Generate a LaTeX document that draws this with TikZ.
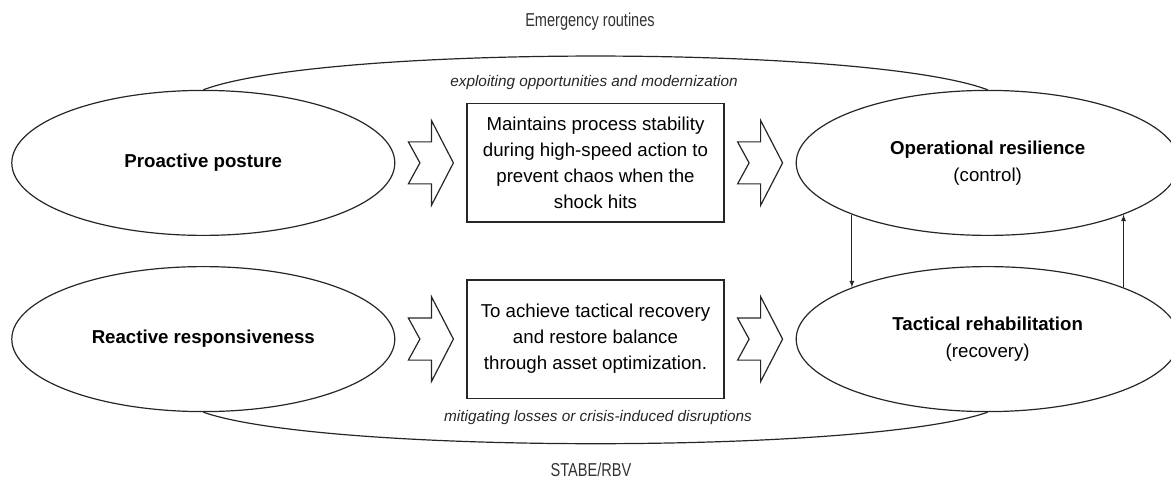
\documentclass[tikz,border=0pt]{standalone}
\usepackage{fontspec}
\setmainfont{Liberation Sans}
\newfontfamily\narrowsans[FakeStretch=0.78]{Liberation Sans}
\usetikzlibrary{%
  arrows,%
  shapes.geometric,% wg. ellipse
  matrix%
}

\begin{document}
\begin{tikzpicture}[x=0.75pt,y=0.75pt,>=latex,
	outcome/.style={
	ellipse,
	minimum width=287.25pt,
	minimum height=108.75pt,
	line width=0.9pt,
	draw=black!85,
	align=center,
	font=\fontsize{14}{20}\selectfont
	},aimbox/.style={
	rectangle,minimum width=192.75pt,minimum height=88.5pt,
	line width=0.9pt,draw=black!85,
	align=center,
	font=\fontsize{14}{19.5}\selectfont
	},chevron/.style={
	rectangle,minimum width=33.75pt,minimum height=63.75pt,inner sep=0pt
	},chevline/.style={
	line width=0.9pt,draw=black!85,line join=miter
	},caption/.style={
	font=\narrowsans\fontsize{14}{17}\selectfont,text=black!80
	},flowtext/.style={
	font=\fontsize{11.5}{14}\selectfont\itshape,text=black!85
	}
%	arcs and arrows
	,bend line/.style={
	line width=0.9pt,draw=black!85
	},link/.style={
	line width=0.7pt,draw=black!85
	}
]

\useasboundingbox (0,0) rectangle (1171,486);

\matrix[row sep=22.5pt,column sep=9.75pt] at (595.5,235) {
% Upper row
\node (proact) [outcome] {\bfseries Proactive posture}; &
\node (chevA) [chevron] {}; &
\node (stable) [aimbox] {Maintains process stability\\during high-speed action to\\prevent chaos when the\\shock hits}; &
\node (chevB) [chevron] {}; &
\node (oper) [outcome] {{\bfseries Operational resilience}\\(control)}; \\
% Lower row
\node (react) [outcome] {\bfseries Reactive responsiveness}; &
\node (chevC) [chevron] {}; &
\node (balance) [aimbox] {To achieve tactical recovery\\and restore balance\\through asset optimization.}; &
\node (chevD) [chevron] {}; &
\node (tact) [outcome] {{\bfseries Tactical rehabilitation}\\(recovery)}; \\
};

%	chevrons drawn over the empty cells
\foreach \c in {chevA,chevB,chevC,chevD}
	\draw[chevline,shift={(\c)}] (-22.5,21) -- (0.5,21) -- (0.5,42.5) -- (22.5,0)
		-- (0.5,-42.5) -- (0.5,-21) -- (-22.5,-21) -- (-11,0) -- cycle;

\draw[bend line] (proact.north) .. controls +(120,45) and +(-120,45) .. (oper.north);
\draw[bend line] (react.south) .. controls +(120,-42) and +(-120,-42) .. (tact.south);

\path	(oper.south west) edge[link,->] (tact.north west)
	(tact.north east) edge[link,->] (oper.south east);

\node (emerg) [caption] at (590,464) {Emergency routines};
\node (stabe) [caption] at (591,16) {STABE/RBV};
\node (exploit) [flowtext] at (594,403) {exploiting opportunities and modernization};
\node (mitig) [flowtext] at (598,68) {mitigating losses or crisis-induced disruptions};

\end{tikzpicture}
\end{document}
